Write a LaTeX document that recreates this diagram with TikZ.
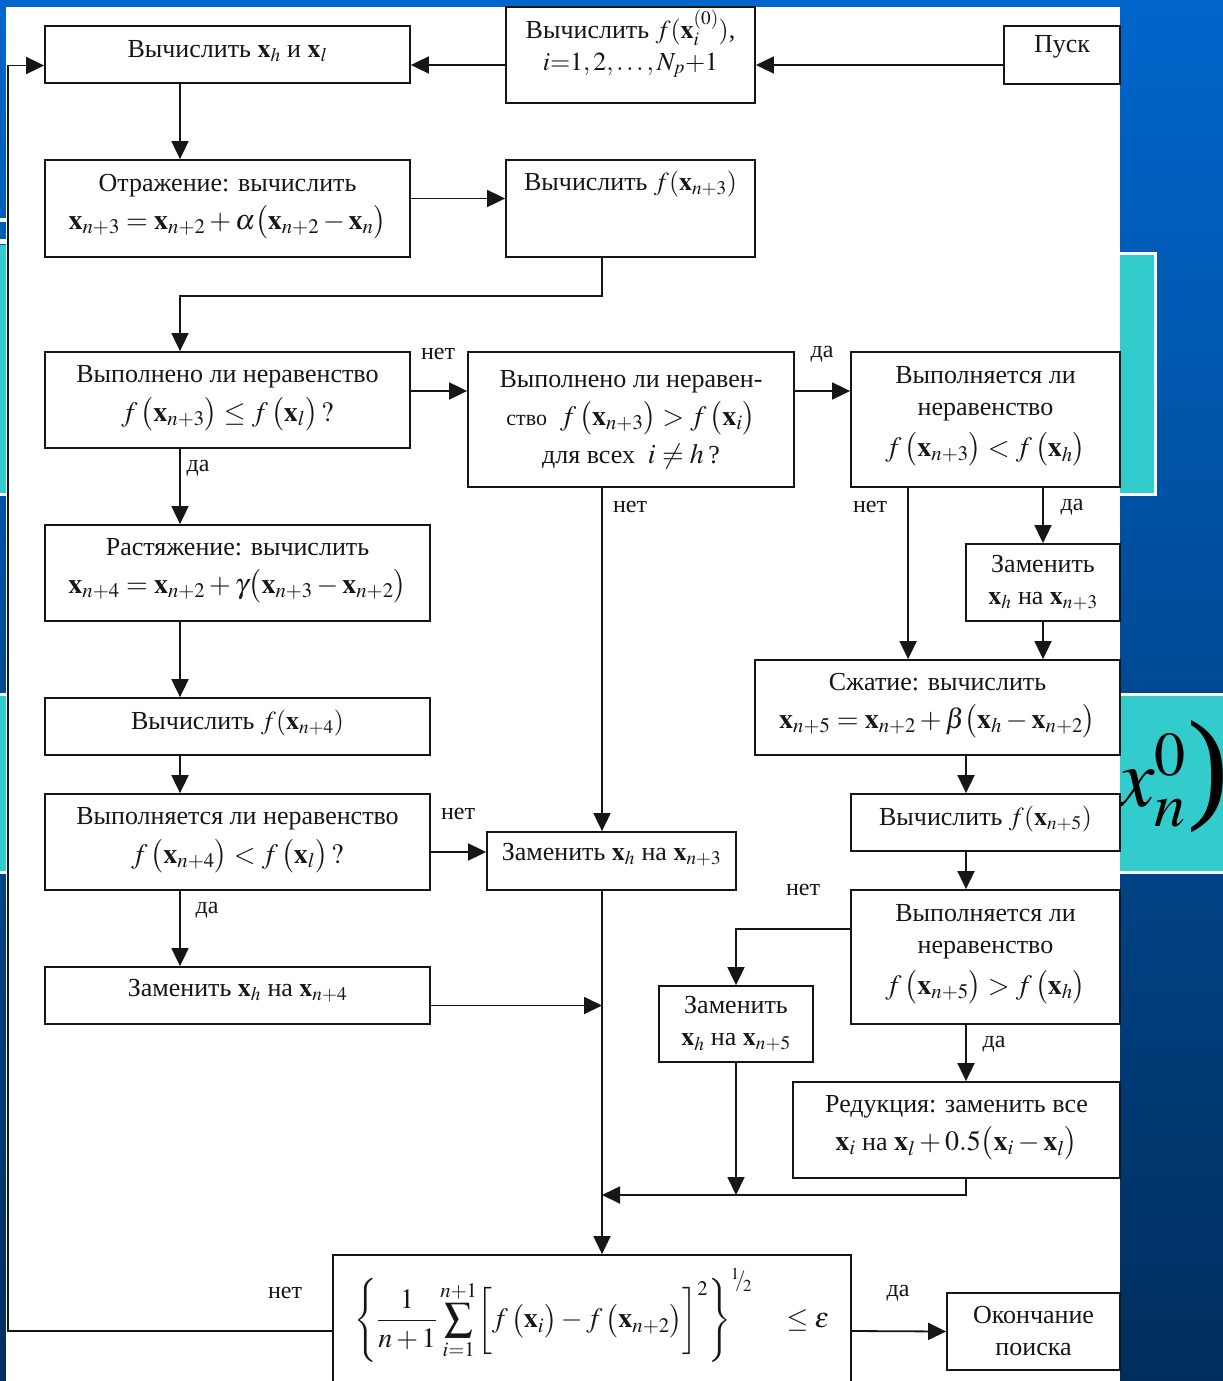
\documentclass[tikz,border=0pt]{standalone}
\usepackage{mathptmx}
\usepackage[no-math]{fontspec}
\setmainfont{Liberation Serif}
\usetikzlibrary{arrows.meta,calc}
\definecolor{bgtop}{RGB}{0,102,204}
\definecolor{bgbot}{RGB}{0,46,92}
\definecolor{slidteal}{RGB}{51,204,204}
\definecolor{ink}{RGB}{22,22,22}
\newcommand{\pushup}[1]{\rule[-#1]{0pt}{0pt}}
\newcommand{\vx}{\mathbf{x}}
\newcommand{\fxx}[1]{f\,\bigl(\vx_{#1}\bigr)}
\newcommand{\fm}[1]{{\fontsize{28}{32}\selectfont$#1$}}
\begin{document}
\begin{tikzpicture}[x=1pt,y=-1pt,
  box/.style={draw=ink, line width=1.8pt, fill=white, align=center, inner sep=2pt,
              font=\fontsize{26}{32}\selectfont, text=ink},
  lbl/.style={font=\fontsize{24}{28}\selectfont, text=ink, inner sep=0pt},
  arr/.style={draw=ink, line width=1.8pt, -{Triangle[length=18pt,width=17pt]}},
  ln/.style={draw=ink, line width=1.8pt}]
\useasboundingbox (0,0) rectangle (1223,1381);
\clip (0,0) rectangle (1223,1381);
% slide background
\shade[top color=bgtop, bottom color=bgbot] (0,0) rectangle (1223,1381);
\fill[white] (0,218) rectangle (6,222);
\fill[white] (0,239) rectangle (6,244);
\fill[slidteal] (0,245) rectangle (6,493);
\fill[white] (0,493) rectangle (6,496);
\fill[white] (0,693) rectangle (6,696);
\fill[slidteal] (0,696) rectangle (6,871);
\fill[white] (0,871) rectangle (6,874);
\fill[white] (1120,252) rectangle (1157,496);
\fill[slidteal] (1120,255) rectangle (1154,493);
\fill[white] (1120,693) rectangle (1223,874);
\fill[slidteal] (1120,696) rectangle (1223,871);
\node[anchor=base west, inner sep=0pt, font=\fontsize{84}{90}\selectfont] (bigx) at (1117,806)
  {$x_n^0$\kern1pt{\fontsize{124}{126}\selectfont)}};
% white page
\fill[white] (6,7) rectangle (1120,1381);

% boxes
\node[box, minimum width=365pt, minimum height=57pt] (b1) at (227.5,54.5) {Вычислить $\vx_h$ и $\vx_l$\pushup{12pt}};
\node[box, minimum width=249pt, minimum height=96pt] (b2) at (630.5,55) {Вычислить $f(\vx_i^{(0)})$,\\ $i{=}1,2,\ldots,N_p{+}1$\pushup{30pt}};
\node[box, minimum width=116pt, minimum height=58pt] (start) at (1062,55) {Пуск\pushup{22pt}};
\node[box, minimum width=365pt, minimum height=97pt] (refl) at (227.5,208.5) {Отражение: вычислить\\[6pt] \fm{\vx_{n+3}=\vx_{n+2}+\alpha\bigl(\vx_{n+2}-\vx_n\bigr)}\pushup{14pt}};
\node[box, minimum width=249pt, minimum height=97pt] (fx3) at (630.5,208.5) {Вычислить $f(\vx_{n+3})$\pushup{56pt}};
\node[box, minimum width=365pt, minimum height=96pt] (d1) at (227.5,400) {Выполнено ли неравенство\\[7pt] \fm{\fxx{n+3}\le \fxx{l}\,?}\pushup{14pt}};
\node[box, minimum width=326pt, minimum height=135pt] (d2) at (631,419.5) {Выполнено ли неравен-\\[6pt] {\fontsize{22}{24}\selectfont ство}~ \fm{\fxx{n+3}>\fxx{i}}\\[6pt] для всех~ \fm{i\ne h}\,?};
\node[box, minimum width=269pt, minimum height=135pt] (d3) at (985.5,419.5) {Выполняется ли\\ неравенство\\[9pt] \fm{\fxx{n+3}<\fxx{h}}\pushup{16pt}};
\node[box, minimum width=385pt, minimum height=96pt] (stretch) at (237.5,573) {Растяжение: вычислить\\[6pt] \fm{\vx_{n+4}=\vx_{n+2}+\gamma\bigl(\vx_{n+3}-\vx_{n+2}\bigr)}\pushup{14pt}};
\node[box, minimum width=154pt, minimum height=77pt] (rep3s) at (1043,582.5) {Заменить\\ $\vx_h$ на $\vx_{n+3}$};
\node[box, minimum width=365pt, minimum height=95pt] (comp) at (937.5,707.5) {Сжатие: вычислить\\[6pt] \fm{\vx_{n+5}=\vx_{n+2}+\beta\bigl(\vx_h-\vx_{n+2}\bigr)}\pushup{14pt}};
\node[box, minimum width=385pt, minimum height=57pt] (fx4) at (237.5,726.5) {Вычислить $f(\vx_{n+4})$\pushup{14pt}};
\node[box, minimum width=385pt, minimum height=96pt] (d4) at (237.5,842) {Выполняется ли неравенство\\[7pt] \fm{\fxx{n+4}<\fxx{l}\,?}\pushup{14pt}};
\node[box, minimum width=249pt, minimum height=58pt] (rep3m) at (611.5,861) {Заменить $\vx_h$ на $\vx_{n+3}$\pushup{18pt}};
\node[box, minimum width=269pt, minimum height=57pt] (fx5) at (985.5,822.5) {Вычислить $f(\vx_{n+5})$\pushup{14pt}};
\node[box, minimum width=269pt, minimum height=134pt] (d5) at (985.5,957) {Выполняется ли\\ неравенство\\[9pt] \fm{\fxx{n+5}>\fxx{h}}\pushup{16pt}};
\node[box, minimum width=385pt, minimum height=57pt] (rep4) at (237.5,995.5) {Заменить $\vx_h$ на $\vx_{n+4}$\pushup{16pt}};
\node[box, minimum width=154pt, minimum height=76pt] (rep5) at (736,1024) {Заменить\\ $\vx_h$ на $\vx_{n+5}$};
\node[box, minimum width=327pt, minimum height=96pt] (red) at (956.5,1130) {Редукция: заменить все\\[6pt] \fm{\vx_i}\ на\ \fm{\vx_l+0.5\bigl(\vx_i-\vx_l\bigr)}\pushup{14pt}};
\node[box, minimum width=518pt, minimum height=152pt, font=\fontsize{28}{32}\selectfont] (conv) at (592,1331)
  {$\displaystyle\left\{\frac{1}{n+1}\sum_{i=1}^{n+1}\biggl[f\,\bigl(\vx_i\bigr)-f\,\bigl(\vx_{n+2}\bigr)\biggr]^2\right\}^{{}^1\!\!/\!{}_2}\quad\le\varepsilon$\pushup{66pt}};
\node[box, minimum width=173pt, minimum height=77pt] (end) at (1033.5,1331.5) {Окончание\\ поиска};

% branch labels
\node[lbl] (l1) at (438,354) {нет};
\node[lbl] (l2) at (198,468) {да};
\node[lbl] (l3) at (822,354) {да};
\node[lbl] (l4) at (630,507) {нет};
\node[lbl] (l5) at (870,507) {нет};
\node[lbl] (l6) at (1072,507) {да};
\node[lbl] (l7) at (458,814) {нет};
\node[lbl] (l8) at (207,910) {да};
\node[lbl] (l9) at (803,890) {нет};
\node[lbl] (l10) at (994,1044) {да};
\node[lbl] (l11) at (285,1293) {нет};
\node[lbl] (l12) at (898,1293) {да};

% spines
\coordinate (lspine) at (180,0);
\coordinate (spine) at (602,0);
\coordinate (rspine) at (966,0);
\coordinate (lx) at (8,0);
\coordinate (merge) at (966,1195);
\coordinate (b1in) at ([yshift=-11pt]b1.west);

% connectors
\draw[arr] ([yshift=-10pt]start.west) -- ([yshift=-10pt]start.west -| b2.east);
\draw[arr] ([yshift=-10pt]b2.west) -- ([yshift=-10pt]b2.west -| b1.east);
\draw[arr] (lspine |- b1.south) -- (lspine |- refl.north);
\draw[arr] ([yshift=10pt]refl.east) -- ([yshift=10pt]refl.east -| fx3.west);
\draw[arr] (spine |- fx3.south) -- ++(0,38) -| (lspine |- d1.north);
\draw[arr] ([yshift=9pt]d1.east) -- ([yshift=9pt]d1.east -| d2.west);
\draw[arr] ([yshift=9pt]d1.east -| d2.east) -- ([yshift=9pt]d1.east -| d3.west);
\draw[arr] (lspine |- d1.south) -- (lspine |- stretch.north);
\draw[arr] (spine |- d2.south) -- (spine |- rep3m.north);
\draw[arr] ([xshift=58pt]d3.south west) -- ([xshift=58pt]d3.south west |- comp.north);
\draw[arr] (rep3s.north |- d3.south) -- (rep3s.north);
\draw[arr] (rep3s.south) -- (rep3s.south |- comp.north);
\draw[arr] (lspine |- stretch.south) -- (lspine |- fx4.north);
\draw[arr] (lspine |- fx4.south) -- (lspine |- d4.north);
\draw[arr] ([yshift=-10pt]d4.east) -- ([yshift=-10pt]d4.east -| rep3m.west);
\draw[arr] (lspine |- d4.south) -- (lspine |- rep4.north);
\draw[arr] ([yshift=-10pt]rep4.east) -- ([yshift=-10pt]rep4.east -| spine);
\draw[arr] (spine |- rep3m.south) -- (spine |- conv.north);
\draw[arr] (rspine |- comp.south) -- (rspine |- fx5.north);
\draw[arr] (rspine |- fx5.south) -- (rspine |- d5.north);
\draw[arr] ([yshift=28pt]d5.west) -| (rep5.north);
\draw[arr] (rspine |- d5.south) -- (rspine |- red.north);
\draw[arr] (rep5.south) -- (rep5.south |- merge);
\draw[arr] (rspine |- red.south) -- (merge) -- (merge -| spine);
\draw[arr] (conv.west) -| (lx |- b1in) -- (b1in);
\draw[arr] (conv.east) -- (end.west);
\end{tikzpicture}
\end{document}
